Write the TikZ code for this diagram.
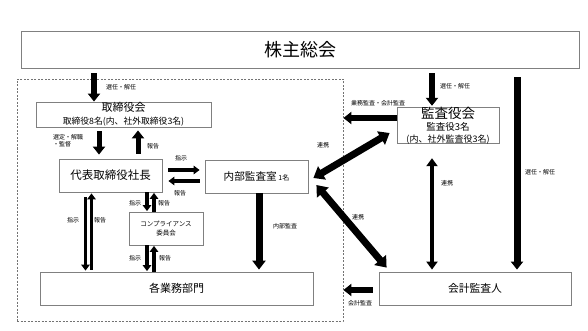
\documentclass[tikz,border=0pt]{standalone}
\usepackage{fontspec}
\setmainfont{Noto Sans CJK JP}
\newfontfamily\cjk{Noto Sans CJK JP}
\usetikzlibrary{arrows.meta}
\tikzset{
  box/.style={draw=black!50, line width=0.8pt, fill=white, inner sep=0pt, align=center},
  lbl/.style={inner sep=0pt, font=\cjk\fontsize{6}{7.2}\selectfont, align=left},
  big/.style={line width=6pt, -{Triangle[width=12pt,length=8pt]}},
  bigboth/.style={line width=7pt, {Triangle[width=15pt,length=10pt]}-{Triangle[width=15pt,length=10pt]}},
  mid/.style={line width=3.5pt, -{Triangle[width=8.5pt,length=6pt]}},
  midboth/.style={line width=5pt, {Triangle[width=11pt,length=8pt]}-{Triangle[width=11pt,length=8pt]}},
}
\begin{document}
\begin{tikzpicture}[x=1pt,y=-1pt]
\fill[white] (0,0) rectangle (588,331);
\useasboundingbox (0,0) rectangle (588,331);

% frame
\node[draw=black!55, line width=0.8pt, dash pattern=on 2pt off 1.5pt, minimum width=326pt, minimum height=242pt, inner sep=0pt] (frame) at (180,200) {};

% boxes
\node[box, minimum width=558pt, minimum height=37pt, font=\cjk\fontsize{18}{20}\selectfont] (kabu) at (300,49.5) {株主総会};
\node[box, minimum width=175pt, minimum height=25pt] (tori) at (123.5,114.5)
  {{\cjk\fontsize{11}{11}\selectfont 取締役会}\\[1pt]{\cjk\fontsize{8.8}{9}\selectfont 取締役8名(内、社外取締役3名)}};
\node[box, minimum width=103pt, minimum height=33pt, font=\cjk\fontsize{11.5}{13}\selectfont] (dai) at (110.5,175.5) {代表取締役社長};
\node[box, minimum width=103pt, minimum height=33pt] (naibu) at (256.5,176.5)
  {{\cjk\fontsize{10.6}{12}\selectfont 内部監査室}\,{\cjk\fontsize{7}{8}\selectfont 1名}};
\node[box, minimum width=74pt, minimum height=33pt, font=\cjk\fontsize{6.5}{9}\selectfont] (comp) at (166,228.5) {コンプライアンス\\委員会};
\node[box, minimum width=273pt, minimum height=33pt, font=\cjk\fontsize{11}{13}\selectfont] (kaku) at (176.5,288.5) {各業務部門};
\node[box, minimum width=102pt, minimum height=33pt] (kansa) at (448,125.5)
  {{\cjk\fontsize{13.5}{13.5}\selectfont 監査役会}\\[0pt]{\cjk\fontsize{9.5}{10.5}\selectfont 監査役3名}\\[-0.5pt]{\cjk\fontsize{9}{10}\selectfont (内、社外監査役3名)}};
\node[box, minimum width=192pt, minimum height=33pt, font=\cjk\fontsize{10.8}{12}\selectfont] (kaikei) at (475,288.5) {会計監査人};

% x / y guides
\coordinate (xa) at (94,0);
\coordinate (xb) at (99,0);
\coordinate (xc) at (138,0);
\coordinate (xd) at (85.5,0);
\coordinate (xe) at (91.5,0);
\coordinate (xf) at (147,0);
\coordinate (xg) at (154,0);
\coordinate (xh) at (259,0);
\coordinate (xi) at (432,0);
\coordinate (xj) at (517,0);
\coordinate (ya) at (0,170);
\coordinate (yb) at (0,181);
\coordinate (yc) at (0,118);
\coordinate (yd) at (0,290);

% arrows
\draw[big, shorten <=5pt] (xa |- kabu.south) -- (xa |- tori.north);
\draw[big, line width=5pt, shorten <=4pt, shorten >=4pt] (xb |- tori.south) -- (xb |- dai.north);
\draw[big, line width=5pt, shorten <=5pt, shorten >=3pt] (xc |- dai.north) -- (xc |- tori.south);
\draw[mid, shorten <=5pt, shorten >=1pt] (xd |- dai.south) -- (xd |- kaku.north);
\draw[mid, shorten <=2pt, shorten >=1pt] (xe |- kaku.north) -- (xe |- dai.south);
\draw[mid, shorten <=6pt, shorten >=5pt] (dai.east |- ya) -- (naibu.west |- ya);
\draw[mid, shorten <=5pt, shorten >=6pt] (naibu.west |- yb) -- (dai.east |- yb);
\draw[mid, shorten >=0.5pt] (xf |- dai.south) -- (xf |- comp.north);
\draw[mid, shorten >=0.5pt] (xg |- comp.north) -- (xg |- dai.south);
\draw[mid, shorten >=0.5pt] (xf |- comp.south) -- (xf |- kaku.north);
\draw[mid, shorten >=0.5pt] (xg |- kaku.north) -- (xg |- comp.south);
\draw[big, line width=7pt, -{Triangle[width=13pt,length=9pt]}, shorten >=2pt] (xh |- naibu.south) -- (xh |- kaku.north);
\draw[big, shorten <=5pt, shorten >=1pt] (xi |- kabu.south) -- (xi |- kansa.north);
\draw[big, line width=7pt, -{Triangle[width=12pt,length=8pt]}, shorten <=9pt, shorten >=2pt] (xj |- kabu.south) -- (xj |- kaikei.north);
\draw[big, line width=5.5pt] (kansa.west |- yc) -- (frame.east |- yc);
\draw[big, line width=5.5pt, shorten <=6pt] (kaikei.west |- yd) -- (frame.east |- yd);
\draw[midboth, line width=4pt, shorten <=14pt, shorten >=2pt] (xi |- kansa.south) -- (xi |- kaikei.north);
\coordinate (d1) at ([shift={(5,1.5)}]naibu.east);
\coordinate (d2) at ([shift={(-7,7.5)}]kansa.west);
\coordinate (d3) at ([shift={(8,8.5)}]naibu.east);
\coordinate (d4) at ([shift={(8,-4)}]kaikei.north west);
\draw[bigboth] (d1) -- (d2);
\draw[bigboth] (d3) -- (d4);

% labels
\node[lbl] (l1) at (121,87) {選任・解任};
\node[lbl] (l2) at (68,141) {選定・解職\\・監督};
\node[lbl] (l3) at (153,146) {報告};
\node[lbl] (l4) at (181,158) {指示};
\node[lbl] (l5) at (180,193) {報告};
\node[lbl] (l6) at (73,220) {指示};
\node[lbl] (l7) at (100,220) {報告};
\node[lbl] (l8) at (135,203) {指示};
\node[lbl] (l9) at (164,203) {報告};
\node[lbl] (l10) at (135,258) {指示};
\node[lbl] (l11) at (165,258) {報告};
\node[lbl] (l12) at (285,226) {内部監査};
\node[lbl] (l13) at (378,103) {業務監査・会計監査};
\node[lbl] (l14) at (323,145) {連携};
\node[lbl] (l15) at (358,217) {連携};
\node[lbl] (l16) at (455,86) {選任・解任};
\node[lbl] (l17) at (447,183) {連携};
\node[lbl] (l18) at (540,172) {選任・解任};
\node[lbl] (l19) at (360,303) {会計監査};
\end{tikzpicture}
\end{document}
